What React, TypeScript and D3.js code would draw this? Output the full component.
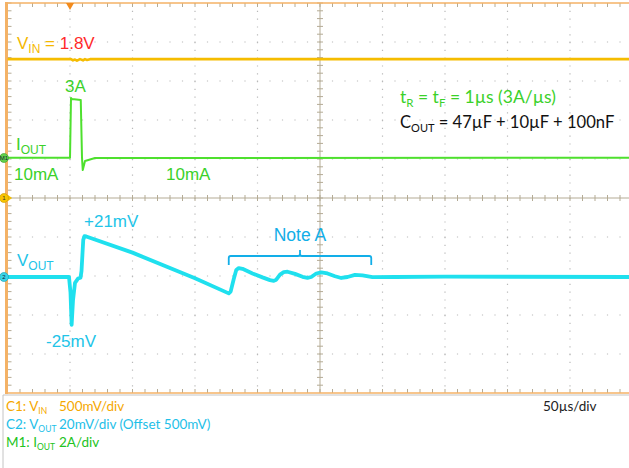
import * as d3 from 'd3';

// scope geometry: 10 x 10 divisions, time in µs relative to trigger
const T_PER_DIV = 50;
const X_DIVS = d3.range(0, 11);
const Y_DIVS = d3.range(0, 11);

// traces: [time µs, value]
const vinTrace: [number, number][] = [
  [-50, 1.78], [0.8, 1.78], [2.4, 1.765], [4, 1.775], [5.6, 1.76], [8, 1.78],
  [10.4, 1.765], [12, 1.78], [13.6, 1.77], [16, 1.78], [450, 1.78],
];
const ioutTrace: [number, number][] = [
  [-50, 0.01], [0, 0.01], [0.8, 3.08], [1.6, 3.02], [8.6, 2.98], [9.6, 0.01],
  [10.2, -0.62], [12, -0.15], [20, 0], [450, 0.01],
];
const voutTrace: [number, number][] = [
  [-50, 0], [-0.8, 0], [0.4, -8], [1.3, -24.5], [2.4, -12], [4, -3], [6.4, -0.8],
  [8.4, -0.4], [9.2, 3], [10.6, 19], [11.6, 21], [13, 20.8], [50, 12.5], [100, -0.6],
  [127, -8.4], [128.5, -7.5], [131, -1], [133, 3.6], [135, 4.6], [138, 4.2],
  [146, 1.8], [154, -0.2], [160, -1.6], [163, -2], [165, -1.4], [168, 1.2],
  [171, 2.5], [174, 2.7], [180, 1.6], [186, 0.1], [190, -0.4], [193, 0], [197, 1.8],
  [201, 2.4], [206, 1.8], [212, 0.4], [217, -0.5], [222, 0], [228, 1.1], [234, 0.8],
  [242, -0.1], [260, 0], [300, 0.2], [450, 0],
];

const noteSpan = [127, 241]; // µs, "Note A" bracket

const scaleRows = [
  { ch: 'C1: ', sig: 'V', sub: 'IN', val: '500mV/div', color: '#f5a800' },
  { ch: 'C2: ', sig: 'V', sub: 'OUT', val: '20mV/div (Offset 500mV)', color: '#1ec0e8' },
  { ch: 'M1: ', sig: 'I', sub: 'OUT', val: '2A/div', color: '#22c322' },
];

const ARIAL = '"Liberation Sans", Arial, sans-serif';
const CAL = 'Lato, "Open Sans", sans-serif';

export default function App() {
  const left = 7.5;
  const top = 3;
  const divW = 62.5;
  const divH = 39;
  const bottom = top + 10 * divH;
  const cx = left + 5 * divW;
  const cy = top + 5 * divH;

  const x = d3.scaleLinear().domain([-T_PER_DIV, 9 * T_PER_DIV]).range([left, left + 10 * divW]);
  // per-channel vertical scales (one division = divH px)
  const yVin = d3.scaleLinear().domain([0, 0.5]).range([cy, cy - divH]);
  const yIout = d3.scaleLinear().domain([0, 2]).range([158, 158 - divH]);
  const yVout = d3.scaleLinear().domain([0, 20]).range([277, 277 - divH]);

  const lineOf = (y: d3.ScaleLinear<number, number>) =>
    d3.line<[number, number]>().x((d) => x(d[0])).y((d) => y(d[1]));

  const minorX = d3.range(0, 50).map((i) => left + (i * divW) / 5);
  const minorY = d3.range(0, 50).map((i) => top + (i * divH) / 5);

  const nx0 = x(noteSpan[0]);
  const nx1 = x(noteSpan[1]);
  const nmid = (nx0 + nx1) / 2;
  const by = 256;

  return (
    <svg width={629} height={468} style={{ position: 'absolute', left: 0, top: 0, background: '#fff' }}>
      {/* grid */}
      <g stroke="#b9b9b9" strokeWidth={1.2}>
        {X_DIVS.filter((i) => i > 0 && i !== 5).map((i) => (
          <line key={'gx' + i} x1={left + i * divW} x2={left + i * divW} y1={top} y2={bottom}
            strokeDasharray={`1.2 ${divH / 5 - 1.2}`} />
        ))}
        {Y_DIVS.filter((i) => i > 0 && i !== 5 && i < 10).map((i) => (
          <line key={'gy' + i} y1={top + i * divH} y2={top + i * divH} x1={left} x2={629}
            strokeDasharray={`1.2 ${divW / 5 - 1.2}`} strokeDashoffset={-divW / 5 + 0.6} />
        ))}
      </g>
      {/* center axes with ticks */}
      <g stroke="#b4ab95" strokeWidth={1}>
        <line x1={left} x2={629} y1={cy} y2={cy} />
        <line x1={cx} x2={cx} y1={top} y2={bottom} />
        {minorX.map((v) => <line key={'cxt' + v} x1={v} x2={v} y1={cy - 3} y2={cy + 3} />)}
        {minorY.map((v) => <line key={'cyt' + v} y1={v} y2={v} x1={cx - 3} x2={cx + 3} />)}
        {minorX.map((v) => <line key={'tt' + v} x1={v} x2={v} y1={top} y2={top + 4} />)}
        {minorX.map((v) => <line key={'bt' + v} x1={v} x2={v} y1={bottom} y2={bottom - 4} />)}
        {minorY.map((v) => <line key={'lt' + v} y1={v} y2={v} x1={left} x2={left + 4} />)}
      </g>
      {/* frame */}
      <g stroke="#f4b266">
        <line x1={left} x2={629} y1={top} y2={top} strokeWidth={1.5} />
        <line x1={left} x2={629} y1={bottom} y2={bottom} strokeWidth={1.5} />
        <line x1={left - 1} x2={left - 1} y1={top - 1} y2={bottom + 1} strokeWidth={3} />
      </g>
      <line x1={3} x2={629} y1={bottom + 2} y2={bottom + 2} stroke="#c4c4c4" strokeWidth={1} />
      <line x1={3} x2={3} y1={bottom + 2} y2={468} stroke="#c4c4c4" strokeWidth={1} />

      {/* trigger marker */}
      <path d={`M${x(0) - 4},${top} L${x(0) + 4},${top} L${x(0)},${top + 7} Z`} fill="#f28a1c" />

      {/* traces */}
      <path d={lineOf(yVin)(vinTrace) ?? ''} fill="none" stroke="#f5bc00" strokeWidth={2.6} strokeLinejoin="round" />
      <path d={lineOf(yIout)(ioutTrace) ?? ''} fill="none" stroke="#4ee02e" strokeWidth={2} strokeLinejoin="round" />
      <path d={lineOf(yVout)(voutTrace) ?? ''} fill="none" stroke="#1fe0ee" strokeWidth={3.8} strokeLinejoin="round" />

      {/* channel markers */}
      <g fontFamily={ARIAL} fontSize={6} textAnchor="middle">
        <circle cx={4} cy={yIout(0)} r={4.5} fill="#62d04a" stroke="#3a9a2a" strokeWidth={0.6} />
        <text x={4} y={yIout(0) + 2.2} fill="#123">M1</text>
        <path d={`M8,${cy - 3} L12,${cy} L8,${cy + 3} Z`} fill="#f5c000" />
        <circle cx={4} cy={cy} r={4.5} fill="#f8c400" stroke="#c89a00" strokeWidth={0.6} />
        <text x={4} y={cy + 2.2} fill="#333">1</text>
        <circle cx={4} cy={yVout(0)} r={4.5} fill="#3ad4e6" stroke="#1a9ab0" strokeWidth={0.6} />
        <text x={4} y={yVout(0) + 2.2} fill="#123">2</text>
      </g>

      {/* trace labels */}
      <g fontFamily={ARIAL} fontSize={17}>
        <text x={17} y={49} fill="#f5b800">
          V<tspan fontSize={12} dy={4}>IN</tspan><tspan dy={-4}> = </tspan>
          <tspan fill="#ff2a2a">1.8V</tspan>
        </text>
        <text x={65} y={92} fill="#3bd12a">3A</text>
        <text x={16} y={150} fill="#3bd12a">
          I<tspan fontSize={12} dy={4}>OUT</tspan>
        </text>
        <text x={14} y={180} fill="#3bd12a">10mA</text>
        <text x={166} y={180} fill="#3bd12a">10mA</text>
        <text x={17} y={266} fill="#22c4e8">
          V<tspan fontSize={12} dy={4}>OUT</tspan>
        </text>
        <text x={84} y={227} fill="#22c4e8">+21mV</text>
        <text x={46} y={347} fill="#22c4e8">-25mV</text>
        <text x={nmid} y={241} fill="#12aee8" textAnchor="middle" fontSize={17.5}>Note A</text>
      </g>
      <path
        d={`M${nx0},${by + 9} L${nx0},${by + 2} Q${nx0},${by} ${nx0 + 2},${by} L${nmid - 2},${by} Q${nmid},${by} ${nmid},${by - 2} L${nmid},${by - 6} M${nmid},${by - 2} Q${nmid},${by} ${nmid + 2},${by} L${nx1 - 2},${by} Q${nx1},${by} ${nx1},${by + 2} L${nx1},${by + 9}`}
        fill="none" stroke="#12aee8" strokeWidth={1.8} />

      {/* conditions */}
      <g fontFamily={CAL}>
        <text x={400} y={103} fill="#3bd12a" fontSize={17.5}>
          t<tspan fontSize={11.5} dy={4}>R</tspan><tspan dy={-4}> = t</tspan>
          <tspan fontSize={11.5} dy={4}>F</tspan><tspan dy={-4}> = 1µs (3A/µs)</tspan>
        </text>
        <text x={400} y={128} fill="#111" fontSize={16.6}>
          C<tspan fontSize={11} dy={4}>OUT</tspan><tspan dy={-4}> = 47µF + 10µF + 100nF</tspan>
        </text>
      </g>

      {/* scale readouts */}
      <g fontFamily={CAL} fontSize={13.5}>
        {scaleRows.map((r, i) => (
          <g key={r.ch} fill={r.color}>
            <text x={6} y={411 + i * 18}>
              {r.ch}{r.sig}<tspan fontSize={8.5} dy={3}>{r.sub}</tspan>
            </text>
            <text x={59} y={411 + i * 18}>{r.val}</text>
          </g>
        ))}
        <text x={543} y={411} fill="#222">50µs/div</text>
      </g>
    </svg>
  );
}
